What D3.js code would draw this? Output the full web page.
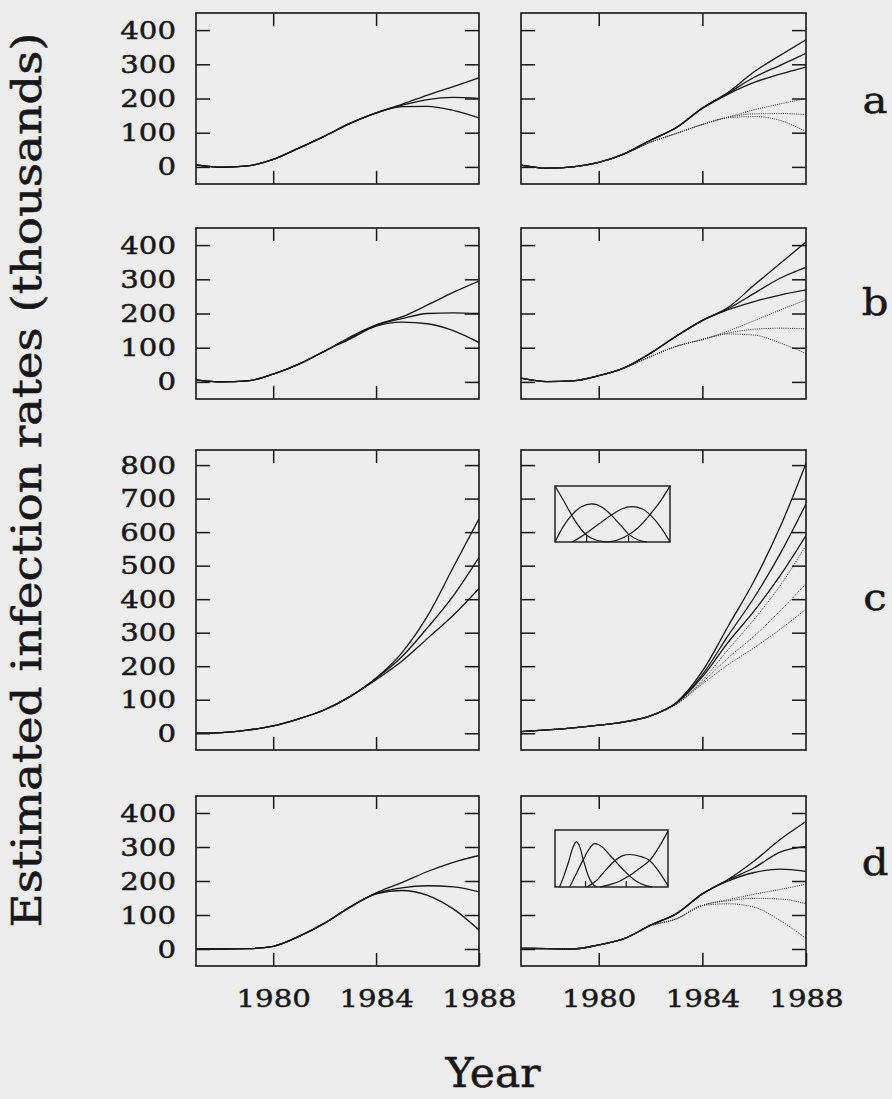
<!DOCTYPE html>
<html>
<head>
<meta charset="utf-8">
<script src="https://cdn.jsdelivr.net/npm/d3@7"></script>
<style>
  body { margin: 0; background: #ededed; }
  svg { display: block; }
</style>
</head>
<body>
<script>
// estimated infection rates (thousands)
const years = [1977, 1978, 1979, 1980, 1981, 1982, 1983, 1984, 1985, 1986, 1987, 1988];

// left column: three solid curves per panel
const aLeft = [
  [6, -1, 3, 22, 55, 90, 128, 158, 183, 210, 235, 260],
  [6, -1, 3, 22, 55, 90, 128, 158, 180, 197, 203, 200],
  [6, -1, 3, 22, 55, 90, 127, 157, 176, 177, 165, 143]
];
const bLeft = [
  [6, 0, 3, 23, 52, 90, 132, 167, 190, 225, 262, 295],
  [6, 0, 3, 23, 52, 90, 129, 165, 185, 200, 202, 200],
  [6, 0, 3, 23, 52, 90, 126, 163, 175, 170, 150, 115]
];
const cLeft = [
  [0, 2, 9, 22, 43, 70, 110, 165, 240, 350, 495, 640],
  [0, 2, 9, 22, 43, 70, 110, 163, 228, 315, 410, 525],
  [0, 2, 9, 22, 43, 70, 110, 160, 215, 283, 352, 432]
];
const dLeft = [
  [0, 0, 1, 8, 37, 76, 124, 165, 195, 228, 255, 275],
  [0, 0, 1, 8, 37, 76, 124, 163, 180, 186, 183, 168],
  [0, 0, 1, 8, 37, 76, 124, 162, 172, 158, 118, 56]
];

// right column: three solid and three dotted curves per panel
const aRightSolid = [
  [5, -4, 0, 13, 39, 78, 115, 172, 218, 278, 326, 372],
  [5, -4, 0, 13, 39, 78, 115, 172, 216, 262, 297, 332],
  [5, -4, 0, 13, 39, 78, 115, 171, 213, 247, 271, 292]
];
const aRightDotted = [
  [5, -4, 0, 13, 38, 72, 98, 124, 146, 167, 184, 200],
  [5, -4, 0, 13, 38, 72, 98, 124, 145, 155, 156, 153],
  [5, -4, 0, 13, 38, 72, 98, 124, 144, 147, 136, 103]
];
const bRightSolid = [
  [11, 1, 3, 18, 42, 84, 134, 180, 218, 283, 346, 409],
  [11, 1, 3, 18, 42, 84, 134, 180, 214, 259, 303, 335],
  [11, 1, 3, 18, 42, 84, 134, 179, 211, 235, 254, 269]
];
const bRightDotted = [
  [11, 1, 3, 18, 41, 74, 104, 124, 149, 179, 210, 240],
  [11, 1, 3, 18, 41, 74, 104, 124, 143, 154, 157, 155],
  [11, 1, 3, 18, 41, 74, 104, 124, 140, 137, 114, 83]
];
const cRightSolid = [
  [5, 10, 16, 24, 34, 52, 92, 185, 320, 455, 615, 805],
  [5, 10, 16, 24, 34, 52, 91, 175, 292, 405, 535, 684],
  [5, 10, 16, 24, 34, 52, 90, 168, 272, 365, 470, 590]
];
const cRightDotted = [
  [5, 10, 16, 24, 34, 52, 88, 158, 250, 340, 440, 560],
  [5, 10, 16, 24, 34, 52, 87, 152, 225, 290, 365, 446],
  [5, 10, 16, 24, 34, 52, 86, 147, 205, 255, 310, 370]
];
const dRightSolid = [
  [2, 1, 0, 12, 31, 70, 104, 162, 205, 259, 322, 375],
  [2, 1, 0, 12, 31, 70, 104, 162, 203, 239, 285, 302],
  [2, 1, 0, 12, 31, 70, 104, 162, 200, 225, 235, 228]
];
const dRightDotted = [
  [2, 1, 0, 12, 31, 68, 89, 128, 145, 161, 175, 191],
  [2, 1, 0, 12, 31, 68, 89, 128, 142, 149, 147, 133],
  [2, 1, 0, 12, 31, 68, 89, 128, 133, 123, 84, 31]
];

// inset basis curves, [position 0..1, height 0..1]
const insetC = [
  [[0, 1], [0.08, 0.72], [0.145, 0.48], [0.2, 0.3], [0.27, 0.13], [0.35, 0.04], [0.45, 0]],
  [[0, 0], [0.07, 0.27], [0.145, 0.48], [0.23, 0.63], [0.32, 0.68], [0.41, 0.62], [0.49, 0.48], [0.57, 0.3], [0.64, 0.14], [0.72, 0.04], [0.8, 0]],
  [[0.15, 0], [0.26, 0.14], [0.38, 0.32], [0.49, 0.48], [0.58, 0.59], [0.67, 0.63], [0.76, 0.59], [0.83, 0.48], [0.92, 0.26], [1, 0]],
  [[0.45, 0], [0.55, 0.04], [0.64, 0.13], [0.72, 0.25], [0.83, 0.5], [0.92, 0.74], [1, 1]]
];
const insetD = [
  [[0.04, 0], [0.08, 0.2], [0.12, 0.44], [0.16, 0.7], [0.19, 0.79], [0.22, 0.7], [0.25, 0.48], [0.29, 0.22], [0.33, 0.06], [0.37, 0]],
  [[0.13, 0], [0.18, 0.2], [0.25, 0.48], [0.3, 0.66], [0.35, 0.76], [0.42, 0.7], [0.48, 0.57], [0.54, 0.44], [0.62, 0.27], [0.72, 0.1], [0.81, 0.02], [0.86, 0]],
  [[0.28, 0], [0.36, 0.1], [0.45, 0.3], [0.53, 0.46], [0.6, 0.55], [0.66, 0.57], [0.75, 0.54], [0.84, 0.46], [0.92, 0.27], [1, 0.02]],
  [[0.4, 0], [0.5, 0.05], [0.58, 0.11], [0.66, 0.2], [0.75, 0.33], [0.84, 0.47], [0.92, 0.7], [1, 0.98]]
];
const insetCKnots = [0.275, 0.64];
const insetDKnots = [0.27, 0.63];

const ticksSmall = [0, 100, 200, 300, 400];
const ticksBig = [0, 100, 200, 300, 400, 500, 600, 700, 800];
const yearTicks = [1980, 1984];
const yearLabels = [1980, 1984, 1988];
const panelLetters = ["a", "b", "c", "d"];

const W = 892, H = 1099;
const font = "'DejaVu Serif', 'Liberation Serif', serif";
const ink = "#161616";
const sx = 1.17; // the scan is stretched sideways

const svg = d3.select("body").append("svg")
    .attr("width", W)
    .attr("height", H);

svg.append("rect").attr("width", W).attr("height", H).attr("fill", "#ededed");

const cols = [{x0: 196, x1: 479}, {x0: 521, x1: 806}];
const rows = [
  {top: 13,  bottom: 184, ymax: 450, ticks: ticksSmall, left: aLeft, solid: aRightSolid, dotted: aRightDotted, letterY: 113},
  {top: 228, bottom: 399, ymax: 450, ticks: ticksSmall, left: bLeft, solid: bRightSolid, dotted: bRightDotted, letterY: 315},
  {top: 450, bottom: 750, ymax: 845, ticks: ticksBig,   left: cLeft, solid: cRightSolid, dotted: cRightDotted, letterY: 610,
   inset: {curves: insetC, knots: insetCKnots, x0: 555, x1: 670, y0: 486, y1: 542}},
  {top: 796, bottom: 966, ymax: 450, ticks: ticksSmall, left: dLeft, solid: dRightSolid, dotted: dRightDotted, letterY: 875,
   inset: {curves: insetD, knots: insetDKnots, x0: 555, x1: 668, y0: 830, y1: 887}}
];

const plotLayer = svg.append("g");
const axisLayer = svg.append("g");
let clipId = 0;

function drawPanel(col, row, isLeft, isLast) {
    const xScale = d3.scaleLinear().domain([1977, 1988]).range([col.x0, col.x1]);
    const yScale = d3.scaleLinear().domain([-50, row.ymax]).range([row.bottom, row.top]);
    const g = plotLayer.append("g");

    // curves, clipped to the frame
    const id = "clip" + (clipId++);
    g.append("clipPath").attr("id", id)
        .append("rect")
        .attr("x", col.x0).attr("y", row.top)
        .attr("width", col.x1 - col.x0).attr("height", row.bottom - row.top);

    const line = d3.line()
        .x((d, i) => xScale(years[i]))
        .y(d => yScale(d))
        .curve(d3.curveMonotoneX);

    const curves = g.append("g").attr("clip-path", `url(#${id})`);
    const solid = isLeft ? row.left : row.solid;
    curves.selectAll(".solid").data(solid).enter().append("path")
        .attr("class", "solid")
        .attr("d", line)
        .attr("fill", "none")
        .attr("stroke", ink)
        .attr("stroke-width", 1.3);
    if (!isLeft) {
        curves.selectAll(".dotted").data(row.dotted).enter().append("path")
            .attr("class", "dotted")
            .attr("d", line)
            .attr("fill", "none")
            .attr("stroke", "#2a2a2a")
            .attr("stroke-width", 1)
            .attr("stroke-dasharray", "1,1.2");
    }

    g.append("rect")
        .attr("x", col.x0).attr("y", row.top)
        .attr("width", col.x1 - col.x0).attr("height", row.bottom - row.top)
        .attr("fill", "none")
        .attr("stroke", ink)
        .attr("stroke-width", 1.6);

    if (!isLeft && row.inset) drawInset(g, row.inset);

    // axes with inward ticks, on top of everything
    const yLeft = d3.axisLeft(yScale).tickValues(row.ticks).tickSize(-14).tickPadding(20)
        .tickFormat(isLeft ? d3.format("d") : "");
    const yRight = d3.axisRight(yScale).tickValues(row.ticks).tickSize(-14).tickFormat("");
    const xTop = d3.axisTop(xScale).tickValues(yearTicks).tickSize(-13).tickFormat("");
    const xBottom = d3.axisBottom(xScale).tickValues(isLast ? yearLabels : yearTicks)
        .tickSize(-13).tickPadding(23).tickFormat(isLast ? d3.format("d") : "");

    [
      [yLeft, `translate(${col.x0},0)`, true],
      [yRight, `translate(${col.x1},0)`, false],
      [xTop, `translate(0,${row.top})`, false],
      [xBottom, `translate(0,${row.bottom})`, false]
    ].forEach(([ax, tr, shiftX]) => {
        const a = axisLayer.append("g").attr("transform", tr).call(ax);
        a.select(".domain").remove();
        a.selectAll(".tick line")
            .attr("stroke", ink)
            .attr("stroke-width", 1.5)
            .style("stroke", ink);
        a.attr("font-family", font).attr("font-size", 25);
        const txt = a.selectAll(".tick text")
            .attr("fill", ink)
            .attr("stroke", ink)
            .attr("stroke-width", 0.45)
            .attr("transform", `scale(${sx},1)`);
        if (shiftX) txt.attr("x", -20 / sx);
    });
}

function drawInset(parent, inset) {
    const ix = d3.scaleLinear().domain([0, 1]).range([inset.x0, inset.x1]);
    const iy = d3.scaleLinear().domain([0, 1]).range([inset.y1, inset.y0]);
    const g = parent.append("g");
    const line = d3.line().x(d => ix(d[0])).y(d => iy(d[1])).curve(d3.curveMonotoneX);
    g.selectAll(".basis").data(inset.curves).enter().append("path")
        .attr("class", "basis")
        .attr("d", line)
        .attr("fill", "none")
        .attr("stroke", ink)
        .attr("stroke-width", 1.2);
    g.selectAll(".knot").data(inset.knots).enter().append("line")
        .attr("class", "knot")
        .attr("x1", d => ix(d)).attr("x2", d => ix(d))
        .attr("y1", iy(0)).attr("y2", iy(0) - 6)
        .attr("stroke", ink).attr("stroke-width", 1.2);
    g.append("rect")
        .attr("x", inset.x0).attr("y", inset.y0)
        .attr("width", inset.x1 - inset.x0).attr("height", inset.y1 - inset.y0)
        .attr("fill", "none")
        .attr("stroke", ink)
        .attr("stroke-width", 1.4);
}

rows.forEach((row, i) => {
    drawPanel(cols[0], row, true, i === rows.length - 1);
    drawPanel(cols[1], row, false, i === rows.length - 1);
    svg.append("text")
        .attr("transform", `translate(875,${row.letterY}) scale(1.1,1)`)
        .attr("text-anchor", "middle")
        .attr("font-family", font)
        .attr("font-size", 38)
        .attr("fill", ink)
        .attr("stroke", ink)
        .attr("stroke-width", 0.5)
        .text(panelLetters[i]);
});

svg.append("text")
    .attr("transform", "translate(41,480) rotate(-90)")
    .attr("text-anchor", "middle")
    .attr("font-family", font)
    .attr("font-size", 41)
    .attr("textLength", 895)
    .attr("lengthAdjust", "spacingAndGlyphs")
    .attr("fill", ink)
    .attr("stroke", ink)
    .attr("stroke-width", 0.5)
    .text("Estimated infection rates (thousands)");

svg.append("text")
    .attr("x", 493)
    .attr("y", 1087)
    .attr("text-anchor", "middle")
    .attr("font-family", font)
    .attr("font-size", 41)
    .attr("textLength", 95)
    .attr("lengthAdjust", "spacingAndGlyphs")
    .attr("fill", ink)
    .attr("stroke", ink)
    .attr("stroke-width", 0.5)
    .text("Year");
</script>
</body>
</html>
